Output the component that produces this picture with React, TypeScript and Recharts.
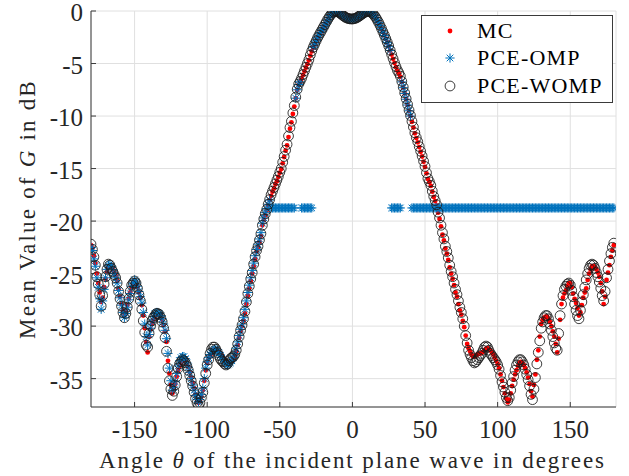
import React from "react";
import {
  CartesianGrid,
  Label,
  Legend,
  Scatter,
  ScatterChart,
  XAxis,
  YAxis,
} from "recharts";

// incidence angle grid, degrees
const THETA = [
  -180, -179, -178, -177, -176, -175, -174, -173, -172, -171, -170, -169, -168, -167, -166, -165, -164, -163, -162, -161,
  -160, -159, -158, -157, -156, -155, -154, -153, -152, -151, -150, -149, -148, -147, -146, -145, -144, -143, -142, -141,
  -140, -139, -138, -137, -136, -135, -134, -133, -132, -131, -130, -129, -128, -127, -126, -125, -124, -123, -122, -121,
  -120, -119, -118, -117, -116, -115, -114, -113, -112, -111, -110, -109, -108, -107, -106, -105, -104, -103, -102, -101,
  -100, -99, -98, -97, -96, -95, -94, -93, -92, -91, -90, -89, -88, -87, -86, -85, -84, -83, -82, -81,
  -80, -79, -78, -77, -76, -75, -74, -73, -72, -71, -70, -69, -68, -67, -66, -65, -64, -63, -62, -61,
  -60, -59, -58, -57, -56, -55, -54, -53, -52, -51, -50, -49, -48, -47, -46, -45, -44, -43, -42, -41,
  -40, -39, -38, -37, -36, -35, -34, -33, -32, -31, -30, -29, -28, -27, -26, -25, -24, -23, -22, -21,
  -20, -19, -18, -17, -16, -15, -14, -13, -12, -11, -10, -9, -8, -7, -6, -5, -4, -3, -2, -1,
  0, 1, 2, 3, 4, 5, 6, 7, 8, 9, 10, 11, 12, 13, 14, 15, 16, 17, 18, 19,
  20, 21, 22, 23, 24, 25, 26, 27, 28, 29, 30, 31, 32, 33, 34, 35, 36, 37, 38, 39,
  40, 41, 42, 43, 44, 45, 46, 47, 48, 49, 50, 51, 52, 53, 54, 55, 56, 57, 58, 59,
  60, 61, 62, 63, 64, 65, 66, 67, 68, 69, 70, 71, 72, 73, 74, 75, 76, 77, 78, 79,
  80, 81, 82, 83, 84, 85, 86, 87, 88, 89, 90, 91, 92, 93, 94, 95, 96, 97, 98, 99,
  100, 101, 102, 103, 104, 105, 106, 107, 108, 109, 110, 111, 112, 113, 114, 115, 116, 117, 118, 119,
  120, 121, 122, 123, 124, 125, 126, 127, 128, 129, 130, 131, 132, 133, 134, 135, 136, 137, 138, 139,
  140, 141, 142, 143, 144, 145, 146, 147, 148, 149, 150, 151, 152, 153, 154, 155, 156, 157, 158, 159,
  160, 161, 162, 163, 164, 165, 166, 167, 168, 169, 170, 171, 172, 173, 174, 175, 176, 177, 178, 179,
  180,
];

// mean G in dB, Monte Carlo reference
const MC = [
  -22.3, -22.6, -23.3, -24.0, -25.0, -25.9, -26.8, -27.7, -27.3, -26.3,
  -25.5, -24.8, -24.4, -24.3, -24.4, -24.6, -24.9, -25.2, -25.7, -26.5,
  -27.2, -27.9, -28.5, -29.0, -28.6, -28.0, -27.4, -26.8, -26.3, -26.0,
  -25.8, -25.9, -26.3, -26.8, -27.3, -28.0, -29.0, -30.2, -31.5, -32.5,
  -31.0, -30.3, -29.8, -29.4, -29.1, -28.95, -28.85, -28.9, -29.1, -29.4,
  -29.9, -30.5, -31.5, -33.3, -34.5, -35.6, -36.4, -36.0, -35.5, -34.8,
  -34.2, -33.8, -33.5, -33.3, -33.2, -33.3, -33.6, -33.9, -34.4, -34.9,
  -35.4, -35.9, -36.5, -37.0, -37.3, -37.1, -36.7, -36.1, -35.2, -34.2,
  -33.5, -33.1, -32.8, -32.6, -32.4, -32.2, -32.2, -32.3, -32.4, -32.6,
  -32.8, -33.0, -33.2, -33.4, -33.5, -33.5, -33.4, -33.3, -33.1, -32.8,
  -32.4, -31.8, -31.1, -30.5, -30.0, -29.5, -28.8, -27.9, -27.1, -26.4,
  -25.7, -25.0, -24.3, -23.6, -22.9, -22.5, -22.0, -21.4, -20.4, -19.9,
  -19.45, -19.0, -18.5, -18.0, -17.6, -17.2, -16.9, -16.5, -16.2, -15.8,
  -15.4, -15.05, -14.5, -13.9, -13.3, -12.8, -12.0, -11.2, -10.6, -9.8,
  -9.1, -8.3, -7.5, -7.0, -6.75, -6.45, -6.1, -5.75, -5.4, -5.05,
  -4.7, -4.25, -3.85, -3.5, -3.2, -2.9, -2.6, -2.35, -2.1, -1.85,
  -1.6, -1.35, -1.1, -0.85, -0.6, -0.4, -0.22, -0.1, -0.05, -0.05,
  -0.1, -0.18, -0.28, -0.4, -0.5, -0.6, -0.68, -0.73, -0.76, -0.78,
  -0.78, -0.76, -0.72, -0.66, -0.58, -0.48, -0.38, -0.28, -0.18, -0.1,
  -0.05, -0.03, -0.06, -0.14, -0.26, -0.42, -0.62, -0.85, -1.1, -1.38,
  -1.68, -2.0, -2.32, -2.65, -3.0, -3.35, -3.75, -4.15, -4.55, -4.95,
  -5.35, -5.7, -5.95, -6.25, -6.75, -7.3, -7.85, -8.4, -8.95, -9.5,
  -10.0, -10.55, -11.1, -11.65, -12.1, -12.5, -12.95, -13.4, -13.85, -14.35,
  -14.85, -15.45, -16.0, -16.3, -16.65, -17.2, -17.7, -18.1, -18.5, -19.2,
  -19.8, -20.5, -21.3, -21.85, -22.6, -23.1, -23.7, -24.4, -25.0, -25.5,
  -26.1, -26.8, -27.2, -27.9, -28.5, -28.9, -29.5, -30.1, -30.9, -31.7,
  -32.1, -32.4, -32.7, -32.9, -32.9, -32.8, -32.7, -32.65, -32.6, -32.55,
  -32.45, -32.3, -32.15, -32.1, -32.2, -32.3, -32.5, -32.7, -33.0, -33.3,
  -33.6, -34.0, -34.6, -35.2, -35.8, -36.4, -36.9, -37.25, -37.0, -36.4,
  -35.7, -35.1, -34.6, -34.2, -33.8, -33.5, -33.4, -33.5, -33.7, -34.0,
  -34.4, -34.9, -35.5, -36.2, -36.7, -35.6, -34.6, -33.2, -32.3, -31.0,
  -29.8, -29.4, -29.2, -29.1, -29.1, -29.3, -29.6, -30.0, -30.5, -31.0,
  -31.7, -32.5, -31.2, -29.4, -27.9, -27.3, -26.9, -26.6, -26.2, -25.9,
  -25.9, -26.3, -26.9, -27.4, -27.8, -28.3, -29.0, -28.7, -28.0, -27.3,
  -26.8, -26.4, -25.6, -25.0, -24.6, -24.3, -24.3, -24.4, -24.6, -24.9,
  -25.3, -25.9, -26.7, -27.9, -27.2, -25.6, -24.9, -24.2, -23.4, -22.8,
  -22.3,
];

// PCE with orthogonal matching pursuit
const PCE_OMP = [
  -22.5, -22.8, -23.6, -24.3, -25.4, -26.3, -27.4, -28.4, -27.6, -26.5,
  -25.4, -24.6, -24.2, -24.1, -24.3, -24.6, -25.0, -25.4, -25.9, -26.6,
  -27.3, -28.0, -28.7, -29.2, -28.8, -28.2, -27.5, -26.9, -26.2, -25.9,
  -25.6, -25.8, -26.2, -26.7, -27.2, -27.8, -28.7, -29.8, -31.0, -31.8,
  -30.8, -30.2, -29.6, -29.1, -28.8, -28.7, -28.7, -28.8, -29.0, -29.3,
  -29.8, -30.4, -31.2, -32.6, -34.0, -35.2, -36.1, -35.8, -35.3, -34.5,
  -33.8, -33.3, -33.0, -32.9, -32.9, -33.1, -33.5, -33.9, -34.4, -35.0,
  -35.6, -36.1, -36.6, -37.0, -37.2, -37.0, -36.5, -35.9, -35.0, -34.0,
  -33.4, -33.0, -32.7, -32.5, -32.3, -32.2, -32.2, -32.4, -32.5, -32.8,
  -33.0, -33.2, -33.4, -33.6, -33.7, -33.6, -33.5, -33.3, -33.0, -32.6,
  -32.1, -31.5, -30.9, -30.3, -29.8, -29.2, -28.4, -27.6, -26.8, -26.1,
  -25.4, -24.7, -24.0, -23.3, -22.7, -22.2, -21.7, -21.1, -20.2, -19.7,
  -19.2, -18.8, -18.4, -18.0, -18.75, -18.75, -18.75, -18.75, -18.75, -18.75,
  -18.75, -18.75, -18.75, -18.75, -18.75, -18.75, -18.75, -18.75, -18.75, -18.75,
  -18.75, -8.3, -7.5, -7.0, -6.75, -18.75, -18.75, -18.75, -18.75, -18.75,
  -18.75, -18.75, -18.75, -3.45, -3.15, -2.85, -2.55, -2.3, -2.05, -1.8,
  -1.62, -1.37, -1.12, -0.87, -0.62, -0.42, -0.23, -0.11, -0.06, -0.06,
  -0.11, -0.19, -0.29, -0.41, -0.51, -0.61, -0.69, -0.74, -0.77, -0.79,
  -0.79, -0.77, -0.73, -0.67, -0.59, -0.49, -0.39, -0.29, -0.19, -0.11,
  -0.06, -0.04, -0.07, -0.15, -0.27, -0.43, -0.63, -0.86, -1.11, -1.39,
  -1.69, -2.01, -2.33, -2.66, -3.01, -3.36, -3.76, -18.75, -18.75, -18.75,
  -18.75, -18.75, -18.75, -18.75, -6.75, -7.3, -7.85, -8.4, -8.95, -9.5,
  -10.0, -18.75, -18.75, -18.75, -18.75, -18.75, -18.75, -18.75, -18.75, -18.75,
  -18.75, -18.75, -18.75, -18.75, -18.75, -18.75, -18.75, -18.75, -18.75, -18.75,
  -18.75, -18.75, -18.75, -18.75, -18.75, -18.75, -18.75, -18.75, -18.75, -18.75,
  -18.75, -18.75, -18.75, -18.75, -18.75, -18.75, -18.75, -18.75, -18.75, -18.75,
  -18.75, -18.75, -18.75, -18.75, -18.75, -18.75, -18.75, -18.75, -18.75, -18.75,
  -18.75, -18.75, -18.75, -18.75, -18.75, -18.75, -18.75, -18.75, -18.75, -18.75,
  -18.75, -18.75, -18.75, -18.75, -18.75, -18.75, -18.75, -18.75, -18.75, -18.75,
  -18.75, -18.75, -18.75, -18.75, -18.75, -18.75, -18.75, -18.75, -18.75, -18.75,
  -18.75, -18.75, -18.75, -18.75, -18.75, -18.75, -18.75, -18.75, -18.75, -18.75,
  -18.75, -18.75, -18.75, -18.75, -18.75, -18.75, -18.75, -18.75, -18.75, -18.75,
  -18.75, -18.75, -18.75, -18.75, -18.75, -18.75, -18.75, -18.75, -18.75, -18.75,
  -18.75, -18.75, -18.75, -18.75, -18.75, -18.75, -18.75, -18.75, -18.75, -18.75,
  -18.75, -18.75, -18.75, -18.75, -18.75, -18.75, -18.75, -18.75, -18.75, -18.75,
  -18.75, -18.75, -18.75, -18.75, -18.75, -18.75, -18.75, -18.75, -18.75, -18.75,
  -18.75,
];

// PCE with weighted orthogonal matching pursuit
const PCE_WOMP = [
  -22.2, -22.7, -23.4, -24.2, -25.3, -26.0, -27.0, -28.1, -27.1, -26.0,
  -25.3, -24.6, -24.1, -24.2, -24.5, -24.8, -25.1, -25.4, -25.9, -26.7,
  -27.4, -28.1, -28.7, -29.2, -28.8, -28.2, -27.4, -26.7, -26.1, -25.9,
  -25.7, -25.9, -26.4, -27.0, -27.6, -28.4, -29.5, -30.6, -31.8, -32.0,
  -30.7, -30.0, -29.5, -29.2, -29.0, -28.8, -28.8, -28.9, -29.2, -29.6,
  -30.2, -31.1, -32.4, -34.0, -35.2, -36.0, -36.6, -36.2, -35.6, -34.8,
  -34.0, -33.6, -33.4, -33.2, -33.3, -33.5, -33.8, -34.2, -34.7, -35.2,
  -35.7, -36.3, -36.9, -37.3, -37.6, -37.3, -36.8, -36.3, -35.4, -34.5,
  -33.7, -33.2, -32.6, -32.2, -32.0, -32.0, -32.2, -32.5, -32.8, -33.1,
  -33.3, -33.4, -33.6, -33.7, -33.6, -33.3, -33.1, -33.0, -32.9, -32.7,
  -32.3, -31.7, -31.0, -30.4, -29.9, -29.3, -28.6, -27.7, -26.9, -26.2,
  -25.5, -24.9, -24.1, -23.4, -22.8, -22.4, -21.8, -21.2, -20.4, -19.8,
  -19.3, -18.9, -18.4, -17.95, -17.5, -17.15, -16.8, -16.45, -16.1, -15.75,
  -15.35, -15.0, -14.4, -13.85, -13.25, -12.7, -11.9, -11.1, -10.5, -9.7,
  -9.0, -8.2, -7.45, -6.95, -6.7, -6.4, -6.05, -5.7, -5.35, -5.0,
  -4.65, -4.2, -3.8, -3.45, -3.15, -2.85, -2.55, -2.3, -2.05, -1.8,
  -1.55, -1.3, -1.05, -0.8, -0.58, -0.38, -0.2, -0.08, -0.03, -0.03,
  -0.08, -0.16, -0.26, -0.38, -0.48, -0.58, -0.66, -0.71, -0.74, -0.76,
  -0.76, -0.74, -0.7, -0.64, -0.56, -0.46, -0.36, -0.26, -0.16, -0.08,
  -0.03, -0.02, -0.05, -0.13, -0.25, -0.41, -0.6, -0.83, -1.08, -1.36,
  -1.66, -1.98, -2.3, -2.63, -2.98, -3.33, -3.73, -4.13, -4.53, -4.93,
  -5.3, -5.65, -5.9, -6.2, -6.7, -7.25, -7.8, -8.35, -8.9, -9.45,
  -9.95, -10.5, -11.05, -11.6, -12.05, -12.45, -12.9, -13.35, -13.8, -14.3,
  -14.8, -15.4, -15.95, -16.25, -16.6, -17.15, -17.65, -18.05, -18.45, -19.15,
  -19.7, -20.4, -21.1, -21.7, -22.4, -22.9, -23.5, -24.2, -24.8, -25.3,
  -25.9, -26.5, -27.0, -27.6, -28.2, -28.7, -29.3, -30.0, -30.9, -31.6,
  -32.3, -32.7, -33.0, -33.3, -33.5, -33.4, -33.2, -33.0, -32.8, -32.6,
  -32.3, -32.0, -31.9, -32.0, -32.3, -32.6, -32.8, -33.0, -33.2, -33.4,
  -33.7, -34.1, -34.7, -35.3, -35.8, -36.3, -36.8, -37.1, -36.8, -36.1,
  -35.4, -34.8, -34.2, -33.7, -33.4, -33.2, -33.2, -33.4, -33.7, -34.1,
  -34.6, -35.1, -35.7, -36.5, -37.0, -36.0, -34.9, -33.6, -32.5, -31.4,
  -30.2, -29.6, -29.2, -29.0, -29.0, -29.3, -29.8, -30.4, -31.0, -31.6,
  -32.1, -32.3, -30.7, -29.0, -27.9, -27.1, -26.5, -26.2, -26.0, -25.9,
  -26.1, -26.6, -27.2, -27.9, -28.5, -29.0, -29.3, -28.5, -27.7, -27.0,
  -26.3, -25.6, -25.0, -24.5, -24.2, -24.1, -24.2, -24.5, -24.9, -25.3,
  -25.8, -26.4, -27.1, -27.6, -26.7, -25.4, -24.6, -23.8, -23.1, -22.5,
  -22.1,
];

const X_TICKS = [-150, -100, -50, 0, 50, 100, 150];
const Y_TICKS = [-35, -30, -25, -20, -15, -10, -5, 0];

const FONT = '"Liberation Serif", "Times New Roman", serif';
const INK = "#262626";
const AXIS = "#3a3a3a";
const GRID = "#e0e0e0";
const RED = "#ff0000";
const BLUE = "#0072bd";

const toPoints = (vals: number[]) => THETA.map((t, i) => ({ theta: t, g: vals[i] }));
const mcData = toPoints(MC);
const ompData = toPoints(PCE_OMP);
const wompData = toPoints(PCE_WOMP);

function Dot({ cx, cy }: any) {
  return <circle cx={cx} cy={cy} r={2.4} fill={RED} />;
}

function Star({ cx, cy }: any) {
  const a = 4.6;
  const d = 3.3;
  return (
    <g stroke={BLUE} strokeWidth={1}>
      <line x1={cx - a} y1={cy} x2={cx + a} y2={cy} />
      <line x1={cx} y1={cy - a} x2={cx} y2={cy + a} />
      <line x1={cx - d} y1={cy - d} x2={cx + d} y2={cy + d} />
      <line x1={cx - d} y1={cy + d} x2={cx + d} y2={cy - d} />
    </g>
  );
}

function Ring({ cx, cy }: any) {
  return <circle cx={cx} cy={cy} r={4.9} fill="none" stroke="#1a1a1a" strokeWidth={0.85} />;
}

function XTick({ x, y, payload }: any) {
  return (
    <text x={x} y={y + 31} textAnchor="middle" fontFamily={FONT} fontSize={25} fill={INK}>
      {payload.value}
    </text>
  );
}

function YTick({ x, y, payload }: any) {
  return (
    <text x={x} y={y + 10} textAnchor="end" fontFamily={FONT} fontSize={25} fill={INK}>
      {payload.value}
    </text>
  );
}

function XLabel({ viewBox }: any) {
  const { x, y, width } = viewBox;
  return (
    <text
      x={x + width / 2 - 1}
      y={y + 61}
      textAnchor="middle"
      fontFamily={FONT}
      fontSize={23}
      letterSpacing={1.9}
      fill={INK}
    >
      Angle <tspan fontStyle="italic">θ</tspan> of the incident plane wave in degrees
    </text>
  );
}

function YLabel({ viewBox }: any) {
  const { y, height } = viewBox;
  const cx = 35;
  const cy = y + height / 2;
  return (
    <text
      x={cx}
      y={cy}
      transform={`rotate(-90 ${cx} ${cy})`}
      textAnchor="middle"
      fontFamily={FONT}
      fontSize={23}
      letterSpacing={2.2}
      fill={INK}
    >
      Mean Value of <tspan fontStyle="italic">G</tspan> in dB
    </text>
  );
}

function LegendBox() {
  const rows = [
    { name: "MC", mark: <Dot cx={29} cy={16} /> },
    { name: "PCE-OMP", mark: <Star cx={29} cy={43} /> },
    { name: "PCE-WOMP", mark: <Ring cx={29} cy={71} /> },
  ];
  return (
    <svg width={192} height={88} style={{ display: "block" }}>
      <rect x={0.5} y={0.5} width={191} height={87} fill="#fff" stroke={AXIS} strokeWidth={1} />
      {rows.map((r, i) => (
        <g key={r.name}>
          {r.mark}
          <text
            x={56}
            y={[23, 50, 78][i]}
            fontFamily={FONT}
            fontSize={22}
            letterSpacing={1.2}
            fill="#000"
          >
            {r.name}
          </text>
        </g>
      ))}
    </svg>
  );
}

export default function App() {
  return (
    <div style={{ position: "fixed", left: 0, top: 0, width: 629, height: 476, background: "#fff" }}>
      <ScatterChart width={629} height={476} margin={{ top: 11, right: 13, bottom: 0, left: 0 }}>
        <CartesianGrid stroke={GRID} strokeWidth={1} />
        <XAxis
          dataKey="theta"
          type="number"
          domain={[-180, 181.5]}
          ticks={X_TICKS}
          allowDataOverflow
          height={69}
          tickSize={-5}
          tickMargin={5}
          tick={<XTick />}
          axisLine={{ stroke: AXIS }}
          tickLine={{ stroke: AXIS }}
        >
          <Label content={<XLabel />} />
        </XAxis>
        <YAxis
          dataKey="g"
          type="number"
          domain={[-37.7, 0]}
          ticks={Y_TICKS}
          allowDataOverflow
          width={91}
          tickSize={-5}
          tickMargin={13}
          tick={<YTick />}
          axisLine={{ stroke: AXIS }}
          tickLine={{ stroke: AXIS }}
        >
          <Label content={<YLabel />} />
        </YAxis>
        <XAxis
          xAxisId="top"
          orientation="top"
          type="number"
          domain={[-180, 181.5]}
          ticks={X_TICKS}
          allowDataOverflow
          height={0}
          tickSize={-5}
          tick={false}
          axisLine={{ stroke: AXIS }}
          tickLine={{ stroke: AXIS }}
        />
        <YAxis
          yAxisId="right"
          orientation="right"
          type="number"
          domain={[-37.7, 0]}
          ticks={Y_TICKS}
          allowDataOverflow
          width={0}
          tickSize={-5}
          tick={false}
          axisLine={{ stroke: AXIS }}
          tickLine={{ stroke: AXIS }}
        />
        <Scatter name="MC" data={mcData} shape={<Dot />} isAnimationActive={false} />
        <Scatter name="PCE-OMP" data={ompData} shape={<Star />} isAnimationActive={false} />
        <Scatter name="PCE-WOMP" data={wompData} shape={<Ring />} isAnimationActive={false} />
        <Legend
          layout="horizontal"
          verticalAlign="middle"
          align="center"
          content={<LegendBox />}
          wrapperStyle={{ position: "absolute", left: 421, top: 15, width: 192, height: 88 }}
        />
      </ScatterChart>
    </div>
  );
}
